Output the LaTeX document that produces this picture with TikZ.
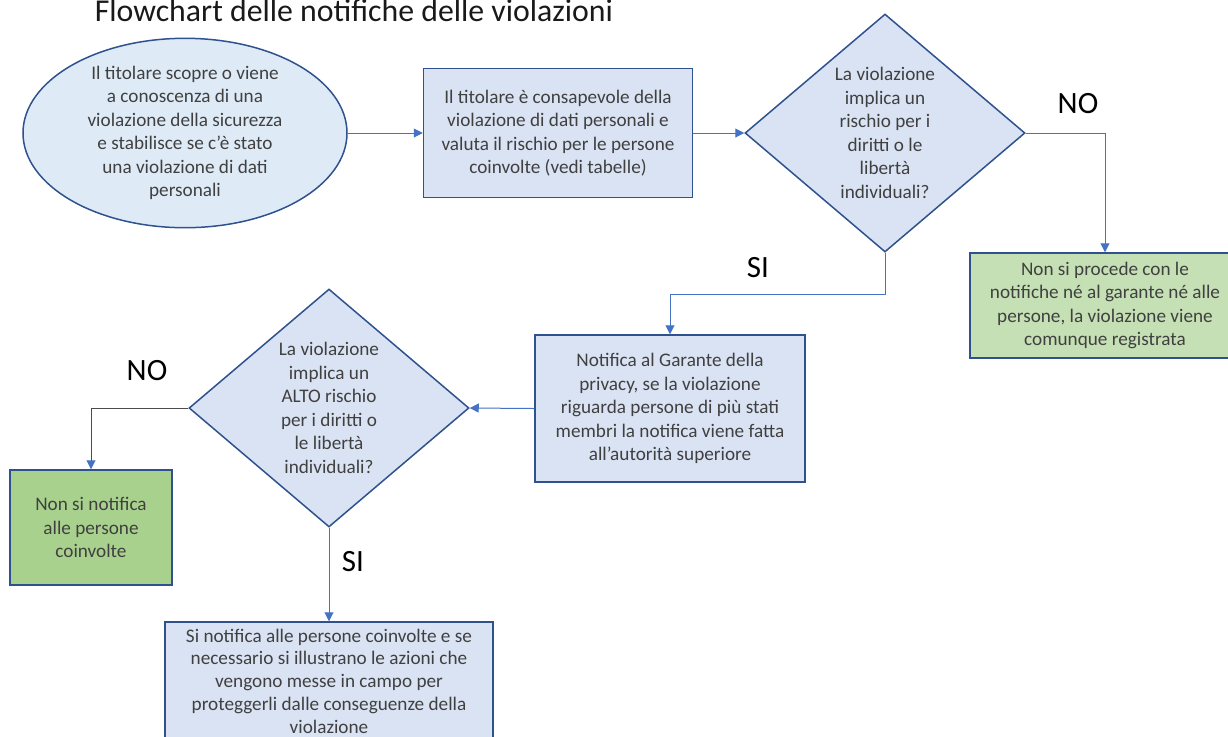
\documentclass[tikz,border=0pt]{standalone}
\usepackage{fontspec}
\setmainfont{Carlito}
\usetikzlibrary{shapes.geometric,arrows.meta}
\definecolor{bluefill}{HTML}{DAE3F3}
\definecolor{ellfill}{HTML}{DEEBF7}
\definecolor{edgeblue}{HTML}{2F528F}
\definecolor{greenA}{HTML}{C5E0B4}
\definecolor{greenB}{HTML}{A9D18E}
\definecolor{conn}{HTML}{4472C4}
\definecolor{txt}{HTML}{404040}
\tikzset{
  basefont/.style={font=\fontsize{9.6pt}{11.75pt}\selectfont, text=txt, align=center},
  procbox/.style={basefont, draw=edgeblue, line width=0.75pt, fill=bluefill, inner sep=0pt},
  greenbox/.style={basefont, draw=edgeblue, line width=0.75pt, inner sep=0pt},
  startell/.style={basefont, ellipse, draw=edgeblue, line width=0.75pt, fill=ellfill, inner sep=0pt},
  decision/.style={basefont, diamond, draw=edgeblue, line width=0.75pt, fill=bluefill, inner sep=0pt, minimum width=140pt, minimum height=119pt},
  lbl/.style={font=\fontsize{15.5pt}{18pt}\selectfont, text=black, anchor=base},
  flow/.style={draw=conn, line width=0.5pt, -{Triangle[width=4.5pt,length=4.5pt]}},
  flowdark/.style={draw=black!70, line width=0.5pt, -{Triangle[width=4.5pt,length=4.5pt,color=conn]}}
}
\begin{document}
\begin{tikzpicture}[x=0.5pt,y=-0.5pt]
\clip (0,0) rectangle (1228,736);
\fill[white] (0,0) rectangle (1228,736);

\node[font=\fontsize{15.9pt}{18pt}\selectfont, text=black!90, anchor=base] (title) at (354,21) {Flowchart delle notifiche delle violazioni};

\node[startell, minimum width=162pt, minimum height=83.5pt] (e) at (185,133)
  {Il titolare scopre o viene\\a conoscenza di una\\violazione della sicurezza\\e stabilisce se c’è stato\\una violazione di dati\\personali};

\node[procbox, minimum width=134.5pt, minimum height=64.5pt] (b1) at (558,133)
  {Il titolare è consapevole della\\violazione di dati personali e\\valuta il rischio per le persone\\coinvolte (vedi tabelle)};

\node[decision] (d1) at (885,133)
  {La violazione\\implica un\\rischio per i\\diritti o le\\libertà\\individuali?};

\node[greenbox, fill=greenA, minimum width=135pt, minimum height=52.5pt] (g1) at (1105,305.5)
  {Non si procede con le\\notifiche né al garante né alle\\persone, la violazione viene\\comunque registrata};

\node[procbox, minimum width=135pt, minimum height=73.5pt] (b2) at (670,408.5)
  {Notifica al Garante della\\privacy, se la violazione\\riguarda persone di più stati\\membri la notifica viene fatta\\all’autorità superiore};

\node[decision] (d2) at (329,408)
  {La violazione\\implica un\\ALTO rischio\\per i diritti o\\le libertà\\individuali?};

\node[greenbox, fill=greenB, minimum width=81pt, minimum height=57.5pt] (g2) at (91,527.5)
  {Non si notifica\\alle persone\\coinvolte};

\node[procbox, minimum width=164pt, minimum height=59pt, font=\fontsize{9.6pt}{11.4pt}\selectfont] (b3) at (329,681)
  {Si notifica alle persone coinvolte e se\\necessario si illustrano le azioni che\\vengono messe in campo per\\proteggerli dalle conseguenze della\\violazione};

\node[lbl] (no1) at (1078,113) {NO};
\node[lbl] (si1) at (758,277) {SI};
\node[lbl] (no2) at (147,380) {NO};
\node[lbl] (si2) at (353,571) {SI};

\coordinate (k1) at (885,294);

\draw[flow] (e.east) -- (b1.west);
\draw[flow] (b1.east) -- (d1.west);
\draw[flow] (d1.east) -| (g1.north);
\draw[flow] (d1.south) -- (k1) -| (b2.north);
\draw[flow] (b2.west) -- (d2.east);
\draw[flowdark] (d2.west) -| (g2.north);
\draw[flow] (d2.south) -- (b3.north);
\end{tikzpicture}
\end{document}
